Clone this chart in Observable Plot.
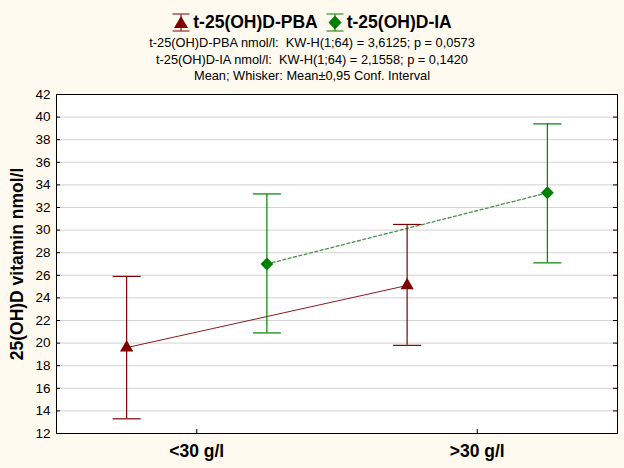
<!DOCTYPE html>
<html><head><meta charset="utf-8">
<script src="https://cdn.jsdelivr.net/npm/d3@7"></script>
<script src="https://cdn.jsdelivr.net/npm/@observablehq/plot@0.6"></script>
<style>
html,body{margin:0;padding:0;background:#fffaef;}
#wrap{width:624px;height:468px;position:relative;overflow:hidden;font-family:"Liberation Sans",Arial,sans-serif;color:#000;}
#head{position:relative;height:88px;}
#legend{position:absolute;left:0;top:12px;width:624px;display:flex;justify-content:center;align-items:center;height:20px;}
.item{display:flex;align-items:center;margin:0 4px;}
.item svg{margin-right:3px;}
.item span{font-weight:bold;font-size:17.5px;line-height:17px;}
.sub{position:absolute;left:0;width:624px;text-align:center;font-size:12.8px;line-height:12.8px;white-space:pre;}
</style></head><body>
<div id="wrap">
  <div id="head"><div id="legend"></div></div>
  <div id="chart"></div>
</div>
<script>
const categories = ["<30 g/l", ">30 g/l"];
const seriesNames = ["t-25(OH)D-PBA", "t-25(OH)D-IA"];
const pbaMean = [19.6, 25.1];
const pbaLow  = [13.3, 19.8];
const pbaHigh = [25.9, 30.5];
const iaMean  = [27.0, 33.3];
const iaLow   = [20.9, 27.1];
const iaHigh  = [33.2, 39.4];
const yTicks = [12, 14, 16, 18, 20, 22, 24, 26, 28, 30, 32, 34, 36, 38, 40, 42];
const subtitleLines = [
  "t-25(OH)D-PBA nmol/l:  KW-H(1;64) = 3,6125; p = 0,0573",
  "t-25(OH)D-IA nmol/l:  KW-H(1;64) = 2,1558; p = 0,1420",
  "Mean; Whisker: Mean\u00b10,95 Conf. Interval"
];
const yLabel = "25(OH)D vitamin nmol/l";

const red = "#800000", green = "#008000";
const head = document.getElementById("head");
const legend = document.getElementById("legend");
const icons = [
  `<svg width="18" height="19" viewBox="0 0 18 19"><line x1="0.5" y1="1" x2="17.5" y2="1" stroke="${red}"/><line x1="0.5" y1="18" x2="17.5" y2="18" stroke="${red}"/><line x1="9" y1="1" x2="9" y2="18" stroke="${red}"/><path d="M9 3 L16 15 L2 15 Z" fill="${red}"/></svg>`,
  `<svg width="18" height="19" viewBox="0 0 18 19"><line x1="0.5" y1="1" x2="17.5" y2="1" stroke="${green}"/><line x1="0.5" y1="18" x2="17.5" y2="18" stroke="${green}"/><line x1="9" y1="1" x2="9" y2="18" stroke="${green}"/><path d="M9 2.5 L15.5 9.5 L9 16.5 L2.5 9.5 Z" fill="${green}"/></svg>`
];
seriesNames.forEach((n, i) => {
  const d = document.createElement("div");
  d.className = "item";
  d.innerHTML = icons[i] + `<span>${n}</span>`;
  legend.appendChild(d);
});
const subTops = [37, 53.5, 70];
subtitleLines.forEach((t, i) => {
  const d = document.createElement("div");
  d.className = "sub";
  d.style.top = subTops[i] + "px";
  d.textContent = t;
  head.appendChild(d);
});

const offsets = [-0.25, 0.25];
const rows = [];
categories.forEach((c, i) => {
  rows.push({series: seriesNames[0], x: i + offsets[0], mean: pbaMean[i], lo: pbaLow[i], hi: pbaHigh[i]});
  rows.push({series: seriesNames[1], x: i + offsets[1], mean: iaMean[i], lo: iaLow[i], hi: iaHigh[i]});
});
const pba = rows.filter(d => d.series === seriesNames[0]);
const ia = rows.filter(d => d.series === seriesNames[1]);

const W = 624, H = 380, ml = 56, mr = 7, mt = 6, mb = 35;
const pw = W - ml - mr, ph = H - mt - mb;
const cap = 0.05;
const colorOf = d => d.series === seriesNames[0] ? red : green;

const chart = Plot.plot({
  width: W, height: H,
  marginLeft: ml, marginRight: mr, marginTop: mt, marginBottom: mb,
  style: {background: "transparent", fontFamily: "Liberation Sans, Arial, sans-serif", color: "#000", overflow: "visible"},
  x: {domain: [-0.5, 1.5], axis: null},
  y: {domain: [12, 42], axis: null},
  marks: [
    Plot.frame({fill: "white", stroke: "none"}),
    Plot.ruleY(yTicks.filter(t => t > 12 && t < 42), {y: d => d, stroke: "#d2d2d2", strokeWidth: 1}),
    Plot.tickY(yTicks, {y: d => d, stroke: "#000", insetRight: pw - 4}),
    Plot.tickY(yTicks, {y: d => d, stroke: "#000", insetLeft: pw - 4}),
    Plot.tickX([0, 1], {x: d => d, stroke: "#000", insetTop: ph - 4}),
    Plot.axisY(yTicks, {tickSize: 0, tickPadding: 6, fontSize: 13.5, label: null}),
    Plot.axisX([0, 1], {tickSize: 0, tickPadding: 11, fontSize: 17.5, fontWeight: "bold", tickFormat: i => categories[i], label: null}),
    Plot.text([yLabel], {frameAnchor: "left", textAnchor: "middle", rotate: -90, dx: -39, fontSize: 17.5, fontWeight: "bold", text: d => d}),
    Plot.line(pba, {x: "x", y: "mean", stroke: "#8b1c1c", strokeWidth: 1}),
    Plot.line(ia, {x: "x", y: "mean", stroke: "#4a914a", strokeWidth: 1.3, strokeDasharray: "3,2.5"}),
    Plot.ruleX(rows, {x: "x", y1: "lo", y2: "hi", stroke: colorOf, strokeWidth: 1.2}),
    Plot.link(rows, {x1: d => d.x - cap, x2: d => d.x + cap, y1: "lo", y2: "lo", stroke: colorOf, strokeWidth: 1.2}),
    Plot.link(rows, {x1: d => d.x - cap, x2: d => d.x + cap, y1: "hi", y2: "hi", stroke: colorOf, strokeWidth: 1.2}),
    Plot.dot(pba, {x: "x", y: "mean", symbol: "triangle", r: 4.9, fill: red, stroke: "none"}),
    Plot.dot(ia, {x: "x", y: "mean", symbol: "diamond2", r: 5.8, fill: green, stroke: "none"}),
    Plot.frame({stroke: "#000", strokeWidth: 1})
  ]
});
document.getElementById("chart").appendChild(chart);
</script>
</body></html>
